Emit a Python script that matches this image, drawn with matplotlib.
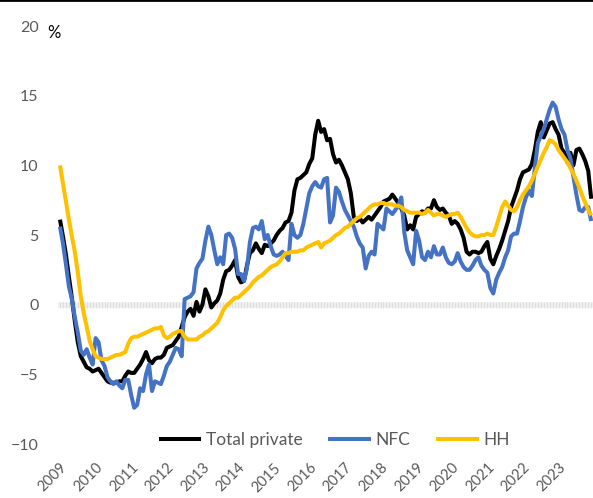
import numpy as np
import pandas as pd
import matplotlib
matplotlib.use("Agg")
import matplotlib.pyplot as plt
from matplotlib.transforms import ScaledTranslation

plt.rcParams['font.family'] = ['Lato', 'DejaVu Sans']

# monthly growth rates, Jan 2009 - Dec 2023 (%, y/y)
total_private = [
    6.1, 4.9, 3.6, 2.0, 0.5, -1.2, -2.7, -3.7, -4.1, -4.5, -4.6, -4.8,      # 2009
    -4.7, -4.6, -4.9, -5.2, -5.5, -5.6, -5.6, -5.6, -5.5, -5.5, -5.1, -4.8,  # 2010
    -4.9, -4.9, -4.6, -4.3, -3.9, -3.4, -4.0, -4.2, -3.9, -3.8, -3.8, -3.6,  # 2011
    -3.1, -3.0, -2.9, -2.6, -2.3, -1.6, -0.9, -0.5, -0.3, -0.8, 0.2, -0.5,   # 2012
    0.0, 1.1, 0.6, -0.2, 0.1, 0.3, 0.8, 1.8, 2.4, 2.5, 2.8, 3.2,            # 2013
    2.0, 1.6, 1.7, 2.8, 3.7, 3.9, 4.4, 4.0, 3.7, 4.3, 4.2, 4.4,             # 2014
    4.6, 5.0, 5.3, 5.5, 5.9, 6.0, 6.6, 8.2, 9.0, 9.1, 9.3, 9.5,             # 2015
    10.1, 10.5, 12.2, 13.2, 12.4, 12.6, 11.8, 11.9, 10.8, 10.2, 10.4, 10.0, # 2016
    9.5, 9.0, 8.0, 6.3, 6.0, 6.2, 5.9, 6.1, 6.3, 6.1, 6.4, 6.7,             # 2017
    7.0, 7.4, 7.5, 7.6, 7.9, 7.6, 7.3, 6.9, 6.4, 5.4, 5.7, 5.4,             # 2018
    6.3, 6.5, 6.7, 6.6, 6.9, 6.9, 7.5, 7.0, 6.8, 6.9, 6.6, 6.4,             # 2019
    5.8, 6.0, 5.8, 5.4, 4.8, 3.8, 3.6, 3.8, 3.8, 3.7, 3.8, 4.2,             # 2020
    4.5, 3.3, 2.9, 3.5, 4.0, 4.6, 5.3, 6.0, 7.0, 7.6, 8.2, 9.0,             # 2021
    9.5, 9.6, 9.7, 10.1, 11.1, 12.4, 13.1, 12.0, 12.5, 13.0, 13.1, 12.6,    # 2022
    12.2, 11.2, 10.9, 10.2, 10.9, 10.0, 11.1, 11.2, 10.8, 10.3, 9.6, 7.6,   # 2023
]
nfc = [
    5.6, 4.4, 2.9, 1.3, 0.4, -0.9, -2.0, -3.3, -3.6, -3.2, -3.8, -4.3,      # 2009
    -2.4, -2.7, -4.0, -4.4, -5.2, -5.5, -5.7, -5.5, -5.8, -6.0, -5.4, -5.4,  # 2010
    -6.5, -7.4, -7.2, -6.0, -6.2, -5.0, -4.3, -6.2, -5.5, -5.6, -5.7, -5.1,  # 2011
    -4.4, -4.1, -3.6, -3.1, -3.2, -3.7, 0.4, 0.5, 0.6, 0.9, 2.6, 3.0,       # 2012
    3.3, 4.6, 5.6, 5.0, 3.9, 2.9, 3.4, 2.9, 5.0, 5.1, 4.8, 4.0,             # 2013
    2.2, 2.2, 1.7, 2.6, 4.5, 5.5, 5.6, 5.4, 6.0, 4.7, 5.0, 4.2,             # 2014
    3.6, 3.5, 3.6, 3.8, 3.5, 3.2, 5.8, 5.0, 4.8, 5.0, 5.8, 6.9,             # 2015
    8.0, 8.5, 8.8, 8.5, 8.4, 9.0, 9.1, 5.9, 6.4, 8.4, 8.1, 7.4,             # 2016
    6.8, 6.4, 6.0, 5.6, 4.9, 4.4, 4.1, 2.6, 3.5, 3.8, 3.6, 5.8,             # 2017
    5.6, 5.4, 6.9, 6.7, 6.5, 6.8, 7.1, 7.7, 5.2, 3.9, 3.4, 2.9,             # 2018
    5.3, 4.6, 3.4, 3.2, 3.8, 3.4, 4.2, 3.6, 3.6, 4.1, 3.4, 3.0,             # 2019
    2.9, 3.1, 3.7, 3.1, 2.7, 2.5, 2.5, 2.8, 3.2, 3.4, 2.8, 2.5,             # 2020
    2.3, 1.2, 0.8, 1.8, 2.3, 2.7, 3.4, 3.9, 4.9, 5.1, 5.1, 6.0,             # 2021
    7.0, 7.7, 8.2, 7.8, 9.8, 11.6, 12.1, 12.6, 13.3, 14.0, 14.5, 14.2,      # 2022
    13.3, 12.6, 12.2, 11.1, 10.5, 9.2, 7.9, 6.8, 6.7, 7.0, 7.0, 6.0,        # 2023
]
hh = [
    10.0, 8.7, 7.4, 6.1, 4.9, 3.8, 2.3, 0.6, -0.6, -1.6, -2.6, -3.2,        # 2009
    -3.7, -3.8, -3.9, -3.9, -3.9, -3.8, -3.7, -3.6, -3.6, -3.5, -3.4, -2.8,  # 2010
    -2.4, -2.3, -2.3, -2.2, -2.1, -2.0, -1.9, -1.8, -1.7, -1.7, -1.6, -2.2,  # 2011
    -2.4, -2.3, -2.1, -2.0, -1.9, -1.9, -2.3, -2.5, -2.5, -2.5, -2.5, -2.3,  # 2012
    -2.2, -2.0, -1.9, -1.7, -1.5, -1.3, -0.9, -0.4, -0.1, 0.1, 0.3, 0.5,    # 2013
    0.5, 0.7, 0.9, 1.1, 1.3, 1.6, 1.8, 2.0, 2.1, 2.3, 2.5, 2.7,             # 2014
    2.8, 2.9, 3.1, 3.4, 3.7, 3.7, 3.8, 3.8, 3.8, 3.9, 3.9, 4.1,             # 2015
    4.2, 4.3, 4.4, 4.5, 4.1, 4.4, 4.5, 4.6, 4.8, 5.0, 5.1, 5.3,             # 2016
    5.5, 5.6, 5.8, 6.0, 6.2, 6.3, 6.5, 6.7, 6.9, 7.1, 7.2, 7.2,             # 2017
    7.3, 7.3, 7.2, 7.2, 7.2, 7.1, 7.1, 7.0, 6.8, 6.7, 6.6, 6.6,             # 2018
    6.6, 6.6, 6.5, 6.6, 6.8, 6.6, 6.4, 6.5, 6.5, 6.4, 6.3, 6.4,             # 2019
    6.5, 6.5, 6.6, 6.3, 5.9, 5.5, 5.2, 5.0, 4.9, 4.9, 5.0, 5.0,             # 2020
    5.1, 5.0, 5.0, 5.6, 6.3, 7.0, 7.4, 7.1, 6.8, 6.7, 7.0, 7.5,             # 2021
    7.9, 8.2, 8.5, 8.9, 9.4, 9.9, 10.4, 10.9, 11.3, 11.8, 11.7, 11.5,       # 2022
    11.1, 10.8, 10.5, 10.2, 9.8, 9.4, 8.9, 8.4, 7.8, 7.3, 6.8, 6.4,         # 2023
]
years = list(range(2009, 2024))

dates = pd.date_range("2009-01-01", periods=len(hh), freq="MS")
x = dates.year + (dates.month - 1) / 12.0

fig = plt.figure(figsize=(5.93, 4.98), dpi=100)
ax = fig.add_axes([58 / 593, 54 / 498, 535 / 593, 418 / 498])

# zero axis with monthly tick marks (Excel style)
ax.axhline(0, color="#efefef", lw=4, zorder=1)
ax.vlines(x, -0.22, 0.22, color="#dadada", lw=0.6, zorder=1)

ax.plot(x, total_private, color="black", lw=2.9, label="Total private", zorder=3,
        solid_capstyle="butt")
ax.plot(x, nfc, color="#4472C4", lw=2.9, label="NFC", zorder=3, solid_capstyle="butt")
ax.plot(x, hh, color="#FFC000", lw=2.9, label="HH", zorder=3, solid_capstyle="butt")

ax.set_ylim(-10, 20)
ax.set_yticks(range(-10, 25, 5))
ax.set_xlim(2009 - 0.67 / 12, 2009 + 179.6 / 12)
ax.set_xticks(years)
ax.set_xticklabels([str(y) for y in years], rotation=45, ha="right", va="top",
                   rotation_mode="anchor")
off = ScaledTranslation(3 / 100, 0, fig.dpi_scale_trans)
for lab in ax.get_xticklabels():
    lab.set_transform(lab.get_transform() + off)

ax.tick_params(axis="y", length=0, pad=14, labelsize=11.5, labelcolor="#595959")
ax.tick_params(axis="x", length=0, pad=12, labelsize=10.5, labelcolor="#595959")
for s in ax.spines.values():
    s.set_visible(False)

leg = ax.legend(loc="center", bbox_to_anchor=(0.516, 0.01), ncol=3, frameon=False,
                fontsize=12.5, handlelength=2.45, handletextpad=0.25,
                columnspacing=1.5, borderpad=0)
for t in leg.get_texts():
    t.set_color("#595959")

fig.text(54 / 593, 1 - 33 / 498, "%", ha="center", va="center", fontsize=12, color="black")

fig.add_artist(plt.Line2D([0, 1], [1, 1], color="black", lw=2, transform=fig.transFigure))

fig.savefig("out.png", dpi=100)
